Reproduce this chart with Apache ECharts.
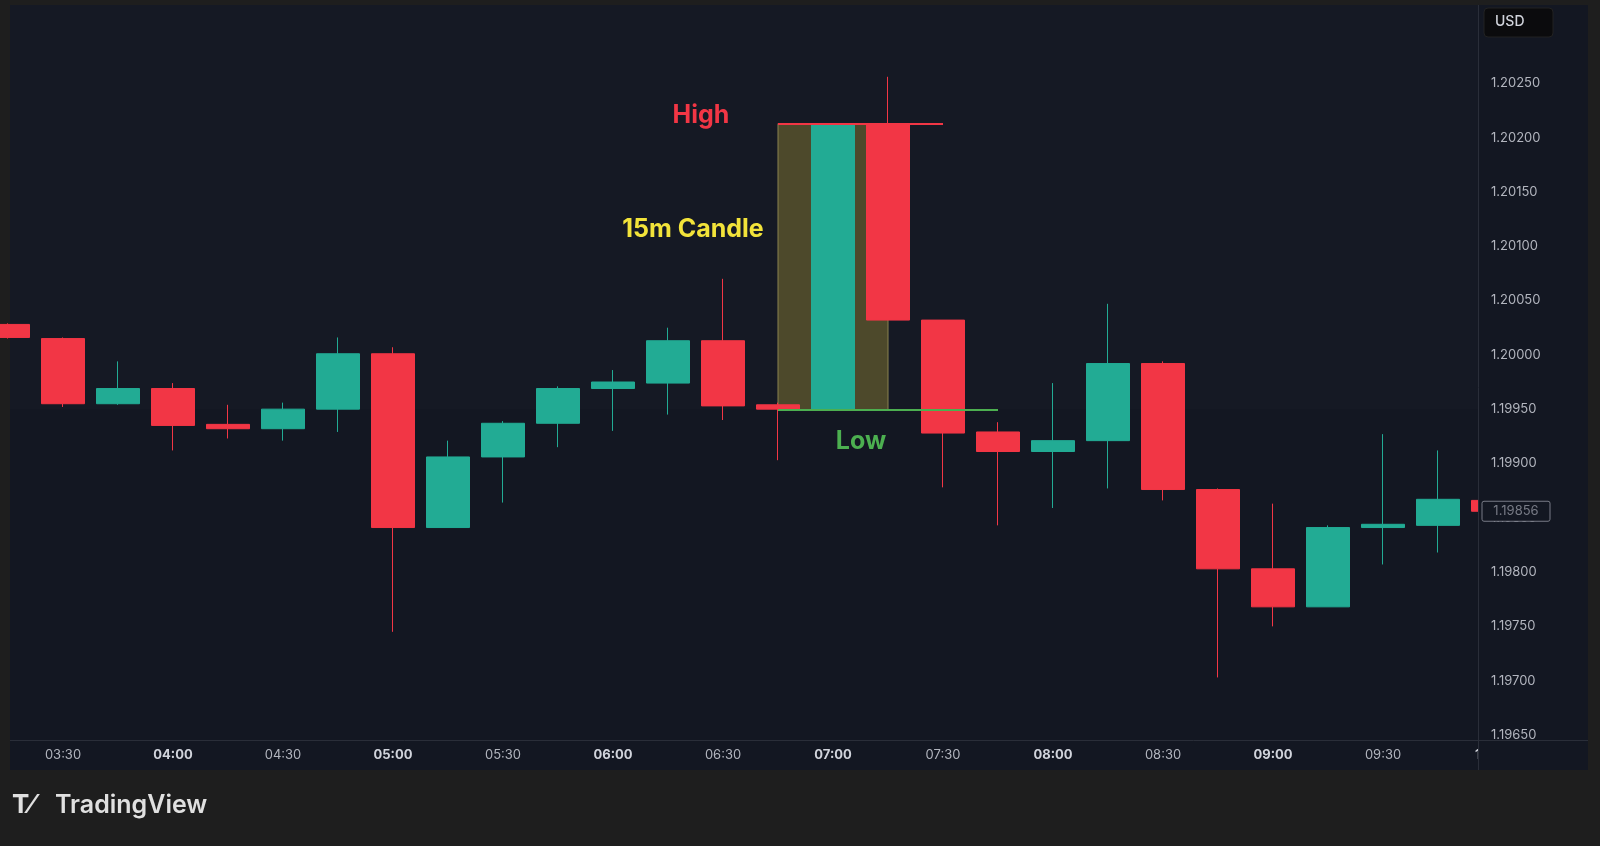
<!DOCTYPE html>
<html>
<head>
<meta charset="utf-8">
<script src="https://cdn.jsdelivr.net/npm/echarts@6/dist/echarts.min.js"></script>
<style>
  html, body { margin: 0; padding: 0; background: #1e1e1e; }
  #chart { width: 1600px; height: 846px; }
</style>
</head>
<body>
<div id="chart"></div>
<script>
// 15 分钟 K 线
const times = ['03:15','03:30','03:45','04:00','04:15','04:30','04:45','05:00','05:15','05:30',
  '05:45','06:00','06:15','06:30','06:45','07:00','07:15','07:30','07:45','08:00',
  '08:15','08:30','08:45','09:00','09:15','09:30','09:45','10:00'];
// [open, close, low, high]
const ohlc = [
  [1.20028, 1.20016, 1.20015, 1.20029],
  [1.20015, 1.19955, 1.19952, 1.20016],
  [1.19955, 1.19969, 1.19954, 1.19994],
  [1.19969, 1.19935, 1.19912, 1.19974],
  [1.19936, 1.19932, 1.19923, 1.19954],
  [1.19932, 1.19950, 1.19921, 1.19956],
  [1.19950, 1.20001, 1.19929, 1.20016],
  [1.20001, 1.19841, 1.19745, 1.20007],
  [1.19841, 1.19906, 1.19841, 1.19921],
  [1.19906, 1.19937, 1.19864, 1.19939],
  [1.19937, 1.19969, 1.19915, 1.19971],
  [1.19969, 1.19975, 1.19930, 1.19986],
  [1.19974, 1.20013, 1.19945, 1.20025],
  [1.20013, 1.19953, 1.19940, 1.20070],
  [1.19954, 1.19950, 1.19903, 1.19956],
  [1.19949, 1.20213, 1.19949, 1.20213],
  [1.20213, 1.20032, 1.20032, 1.20256],
  [1.20032, 1.19928, 1.19878, 1.20032],
  [1.19929, 1.19911, 1.19843, 1.19938],
  [1.19911, 1.19921, 1.19859, 1.19974],
  [1.19921, 1.19992, 1.19877, 1.20047],
  [1.19992, 1.19876, 1.19866, 1.19994],
  [1.19876, 1.19803, 1.19703, 1.19877],
  [1.19803, 1.19768, 1.19750, 1.19863],
  [1.19768, 1.19841, 1.19768, 1.19843],
  [1.19841, 1.19844, 1.19807, 1.19927],
  [1.19843, 1.19867, 1.19818, 1.19912],
  [1.19866, 1.19856, 1.19855, 1.19867],
];
const candleHigh = 1.20213;
const candleLow = 1.19949;
const lastPrice = 1.19856;

const UP = '#22ab94';
const DOWN = '#f23645';

const chart = echarts.init(document.getElementById('chart'));

const option = {
  backgroundColor: '#1e1e1e',
  animation: false,
  textStyle: { fontFamily: 'Inter, Roboto, sans-serif' },
  grid: { left: 8, right: 107, top: 29, bottom: 111 },
  graphic: [
    // 主图背景
    { type: 'rect', z: -10, shape: { x: 10, y: 5, width: 1468, height: 765 }, style: { fill: '#131722' } },
    { type: 'rect', z: -9, shape: { x: 10, y: 5, width: 1468, height: 404 }, style: { fill: 'rgba(255,255,255,0.012)' } },
    // 价格轴面板
    { type: 'rect', z: 50, shape: { x: 1478, y: 5, width: 110, height: 765 }, style: { fill: '#131722' } },
    { type: 'line', z: 51, shape: { x1: 1478.5, y1: 5, x2: 1478.5, y2: 770 }, style: { stroke: '#2a2e39', lineWidth: 1 } },
    { type: 'line', z: 51, shape: { x1: 10, y1: 740.5, x2: 1588, y2: 740.5 }, style: { stroke: '#2a2e39', lineWidth: 1 } },
    { type: 'rect', z: 52, shape: { x: 1484, y: 8, width: 69, height: 29, r: 4 }, style: { fill: '#0b0b0d', stroke: '#222', lineWidth: 1 } },
    { type: 'text', z: 53, x: 1495, y: 22, style: { text: 'USD', fill: '#d1d4dc', font: '500 14px Inter, sans-serif', verticalAlign: 'middle' } },
    // 注释
    { type: 'text', z: 40, x: 701, y: 115, style: { text: 'High', fill: '#f23645', font: 'bold 25px Inter, sans-serif', align: 'center', verticalAlign: 'middle' } },
    { type: 'text', z: 40, x: 693, y: 229, style: { text: '15m Candle', fill: '#f2e33a', font: 'bold 25px Inter, sans-serif', align: 'center', verticalAlign: 'middle' } },
    { type: 'text', z: 40, x: 861, y: 441, style: { text: 'Low', fill: '#4caf50', font: 'bold 25px Inter, sans-serif', align: 'center', verticalAlign: 'middle' } },
    // Logo
    { type: 'text', z: 40, x: 12, y: 805, style: { text: 'T⁄', fill: '#e0e0e0', font: 'bold 26px Inter, sans-serif', verticalAlign: 'middle' } },
    { type: 'text', z: 40, x: 55, y: 805, style: { text: 'TradingView', fill: '#e0e0e0', font: '600 25px Inter, sans-serif', verticalAlign: 'middle' } },
  ],
  xAxis: {
    type: 'category',
    data: times,
    boundaryGap: false,
    z: 10,
    axisLine: { show: false },
    axisTick: { show: false },
    splitLine: { show: false },
    axisLabel: {
      interval: (i) => i % 2 === 1,
      margin: 14,
      color: '#b2b5be',
      fontSize: 13,
      formatter: (v) => (v.endsWith(':00') ? '{b|' + v + '}' : v),
      rich: { b: { fontWeight: 'bold', color: '#d1d4dc', fontSize: 13 } },
    },
  },
  yAxis: {
    type: 'value',
    position: 'right',
    min: 1.1965,
    max: 1.2030,
    interval: 0.0005,
    z: 60,
    axisLine: { show: false },
    axisTick: { show: false },
    splitLine: { show: false },
    axisLabel: {
      color: '#b2b5be',
      fontSize: 13,
      margin: -2,
      showMaxLabel: false,
      formatter: (v) => v.toFixed(5),
    },
  },
  series: [
    {
      type: 'candlestick',
      data: ohlc,
      barWidth: 44,
      clip: true,
      itemStyle: { color: UP, color0: DOWN, borderColor: UP, borderColor0: DOWN, borderWidth: 1 },
      markArea: {
        silent: true,
        itemStyle: { color: 'rgba(112,104,48,0.62)', borderColor: '#8a8350', borderWidth: 1 },
        data: [[{ coord: ['06:45', candleHigh] }, { coord: ['07:15', candleLow] }]],
      },
      markLine: {
        silent: true,
        symbol: 'none',
        label: { show: false },
        data: [
          [{ coord: ['06:45', candleHigh], lineStyle: { color: DOWN, width: 2, type: 'solid' } }, { coord: ['07:30', candleHigh] }],
          [{ coord: ['06:45', candleLow], lineStyle: { color: '#4caf50', width: 2, type: 'solid' } }, { coord: ['07:45', candleLow] }],
        ],
      },
    },
  ],
};
chart.setOption(option);

// 最新价标签
const py = chart.convertToPixel({ yAxisIndex: 0 }, lastPrice);
chart.setOption({
  graphic: option.graphic.concat([
    { type: 'rect', z: 70, shape: { x: 1482, y: py - 10, width: 68, height: 20, r: 2 }, style: { fill: '#131722', stroke: '#787b86', lineWidth: 1 } },
    { type: 'text', z: 71, x: 1516, y: py, style: { text: lastPrice.toFixed(5), fill: '#787b86', font: '13px Inter, sans-serif', align: 'center', verticalAlign: 'middle' } },
  ]),
});
</script>
</body>
</html>
